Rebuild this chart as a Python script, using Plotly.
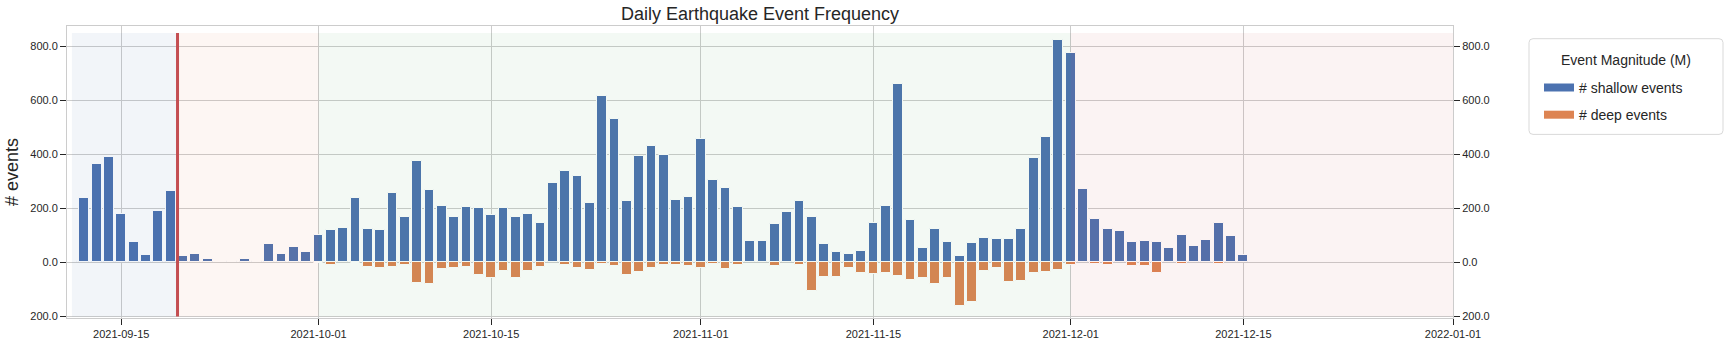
import pandas as pd
import plotly.graph_objects as go

# ---- data ----
dates = pd.date_range("2021-09-11", "2021-12-15", freq="D")

shallow = [
    # Sep 11 - Sep 30
    7, 239, 366, 392, 178, 76, 29, 189, 265, 22, 33, 11, 0, 4, 11, 4, 69, 33, 58, 37,
    # Oct 1 - Oct 31
    103, 120, 127, 237, 123, 120, 257, 167, 377, 268, 210, 170, 207, 203, 174, 203,
    167, 181, 145, 294, 337, 319, 221, 616, 533, 228, 395, 431, 399, 232, 243,
    # Nov 1 - Nov 30
    457, 305, 276, 207, 80, 80, 141, 185, 228, 170, 69, 40, 33, 43, 145, 210,
    660, 156, 54, 123, 76, 25, 73, 91, 87, 87, 123, 388, 464, 823,
    # Dec 1 - Dec 15
    776, 272, 160, 123, 116, 76, 80, 76, 54, 102, 62, 83, 145, 98, 29,
]

deep = [
    # Sep 11 - Sep 30
    0, 0, 0, 0, 0, 0, 0, 0, 0, 0, 0, 0, 0, 0, 0, 0, 0, 0, 0, 0,
    # Oct 1 - Oct 31
    4, 8, 0, 4, 17, 22, 18, 10, 76, 80, 25, 22, 18, 47, 58, 33,
    58, 33, 18, 0, 10, 22, 29, 6, 15, 47, 36, 22, 11, 11, 15,
    # Nov 1 - Nov 30
    22, 6, 25, 11, 0, 0, 15, 0, 11, 105, 54, 54, 22, 40, 44, 40,
    51, 65, 58, 80, 58, 160, 145, 33, 22, 73, 69, 40, 36, 29,
    # Dec 1 - Dec 15
    11, 0, 5, 10, 0, 14, 14, 40, 0, 5, 0, 0, 5, 0, 0,
]

series_names = ["# shallow events", "# deep events"]
legend_title = "Event Magnitude (M)"
chart_title = "Daily Earthquake Event Frequency"
y_label = "# events"

y_tick_values = [-200, 0, 200, 400, 600, 800]
y_tick_labels = ["200.0", "0.0", "200.0", "400.0", "600.0", "800.0"]
x_tick_dates = ["2021-09-15", "2021-10-01", "2021-10-15", "2021-11-01",
                "2021-11-15", "2021-12-01", "2021-12-15", "2022-01-01"]

event_time = "2021-09-19 13:30"
phase_bounds = ["2021-09-11", event_time, "2021-10-01", "2021-12-01", "2022-01-01"]
phase_colors = ["rgba(76,114,176,0.07)", "rgba(221,132,82,0.07)",
                "rgba(85,168,104,0.07)", "rgba(196,78,82,0.07)"]

BLUE = "#4C72B0"
ORANGE = "#DD8452"
RED = "#C44E52"
TXT = "#262626"
GRID = "#cccccc"
DAY_MS = 86400000
FONT = "Arial, Liberation Sans, sans-serif"

# pixel geometry of the plotting area
W, H = 1730, 352
ML, MR, MT, MB = 67, 277, 26, 27
PW, PH = W - ML - MR, H - MT - MB


def px_x(x):
    return (x - ML) / PW


def px_y(y):
    return (H - MB - y) / PH


fig = go.Figure()
fig.add_trace(go.Bar(
    x=dates, y=shallow, name=series_names[0], width=0.8 * DAY_MS,
    marker=dict(color=BLUE, line=dict(color="white", width=1)),
    showlegend=False,
))
fig.add_trace(go.Bar(
    x=dates, y=[-v for v in deep], name=series_names[1], width=0.8 * DAY_MS,
    marker=dict(color=ORANGE, line=dict(color="white", width=1)),
    showlegend=False,
))
# legend entries drawn as wide patches
for nm, col, grp in [(series_names[0], BLUE, "a"), (series_names[1], ORANGE, "b")]:
    fig.add_trace(go.Scatter(
        x=[None], y=[None], mode="lines", name=nm,
        line=dict(color=col, width=8), legendgroup=grp, hoverinfo="skip",
    ))
# invisible helper so the right-hand axis is drawn
fig.add_trace(go.Scatter(
    x=[dates[0]], y=[0], yaxis="y2", mode="markers",
    marker=dict(opacity=0), showlegend=False, hoverinfo="skip",
))

shapes = []
for i, col in enumerate(phase_colors):
    shapes.append(dict(type="rect", xref="x", yref="y",
                       x0=phase_bounds[i], x1=phase_bounds[i + 1], y0=-200, y1=850,
                       fillcolor=col, line=dict(width=0), layer="above"))
shapes.append(dict(type="line", xref="x", yref="y", x0=event_time, x1=event_time,
                   y0=-200, y1=850, line=dict(color=RED, width=3), layer="above"))

# legend frame (rounded box)
bx0, bx1, by0, by1 = px_x(1529), px_x(1723), px_y(137), px_y(39)
rx, ry = 4 / PW, 4 / PH
path = (f"M{bx0+rx},{by0} L{bx1-rx},{by0} Q{bx1},{by0} {bx1},{by0+ry} "
        f"L{bx1},{by1-ry} Q{bx1},{by1} {bx1-rx},{by1} L{bx0+rx},{by1} "
        f"Q{bx0},{by1} {bx0},{by1-ry} L{bx0},{by0+ry} Q{bx0},{by0} {bx0+rx},{by0} Z")
shapes.append(dict(type="path", xref="paper", yref="paper", path=path,
                   fillcolor="white", line=dict(color="#d9d9d9", width=1), layer="below"))

y_range = [-206, 876]
axis_common = dict(
    showline=True, linecolor=GRID, linewidth=1, mirror=True,
    ticks="outside", ticklen=6, tickcolor=TXT, tickwidth=1,
    tickfont=dict(size=11, color=TXT, family=FONT),
)

fig.update_layout(
    width=W, height=H,
    margin=dict(l=ML, r=MR, t=MT, b=MB),
    paper_bgcolor="white", plot_bgcolor="white",
    barmode="relative", bargap=0,
    shapes=shapes,
    font=dict(family=FONT, color=TXT),
    title=dict(text=chart_title, x=0.5, xref="paper", xanchor="center",
               y=1 - 14 / H, yref="container", yanchor="middle",
               font=dict(size=18, color=TXT)),
    xaxis=dict(
        range=["2021-09-10 14:24", "2022-01-01"], type="date",
        tickvals=x_tick_dates, tickformat="%Y-%m-%d",
        showgrid=True, gridcolor=GRID, gridwidth=1, zeroline=False,
        **axis_common,
    ),
    yaxis=dict(
        range=y_range, tickvals=y_tick_values, ticktext=y_tick_labels,
        showgrid=True, gridcolor=GRID, gridwidth=1, zeroline=False,
        title=dict(text=y_label, font=dict(size=18, color=TXT), standoff=6),
        **axis_common,
    ),
    yaxis2=dict(
        range=y_range, tickvals=y_tick_values, ticktext=y_tick_labels,
        overlaying="y", side="right", showgrid=False, zeroline=False,
        showline=False, ticks="outside", ticklen=6, tickcolor=TXT,
        tickfont=dict(size=11, color=TXT, family=FONT),
    ),
    annotations=[dict(
        text=legend_title, xref="paper", yref="paper",
        x=px_x(1626), y=px_y(61), xanchor="center", yanchor="middle",
        showarrow=False, font=dict(size=14, color=TXT, family=FONT),
    )],
    legend=dict(
        x=px_x(1539), y=px_y(73), xanchor="left", yanchor="top",
        borderwidth=0, bgcolor="rgba(0,0,0,0)",
        font=dict(size=14, color=TXT, family=FONT),
        tracegroupgap=6,
    ),
    showlegend=True,
)

fig.write_html("out.html")
